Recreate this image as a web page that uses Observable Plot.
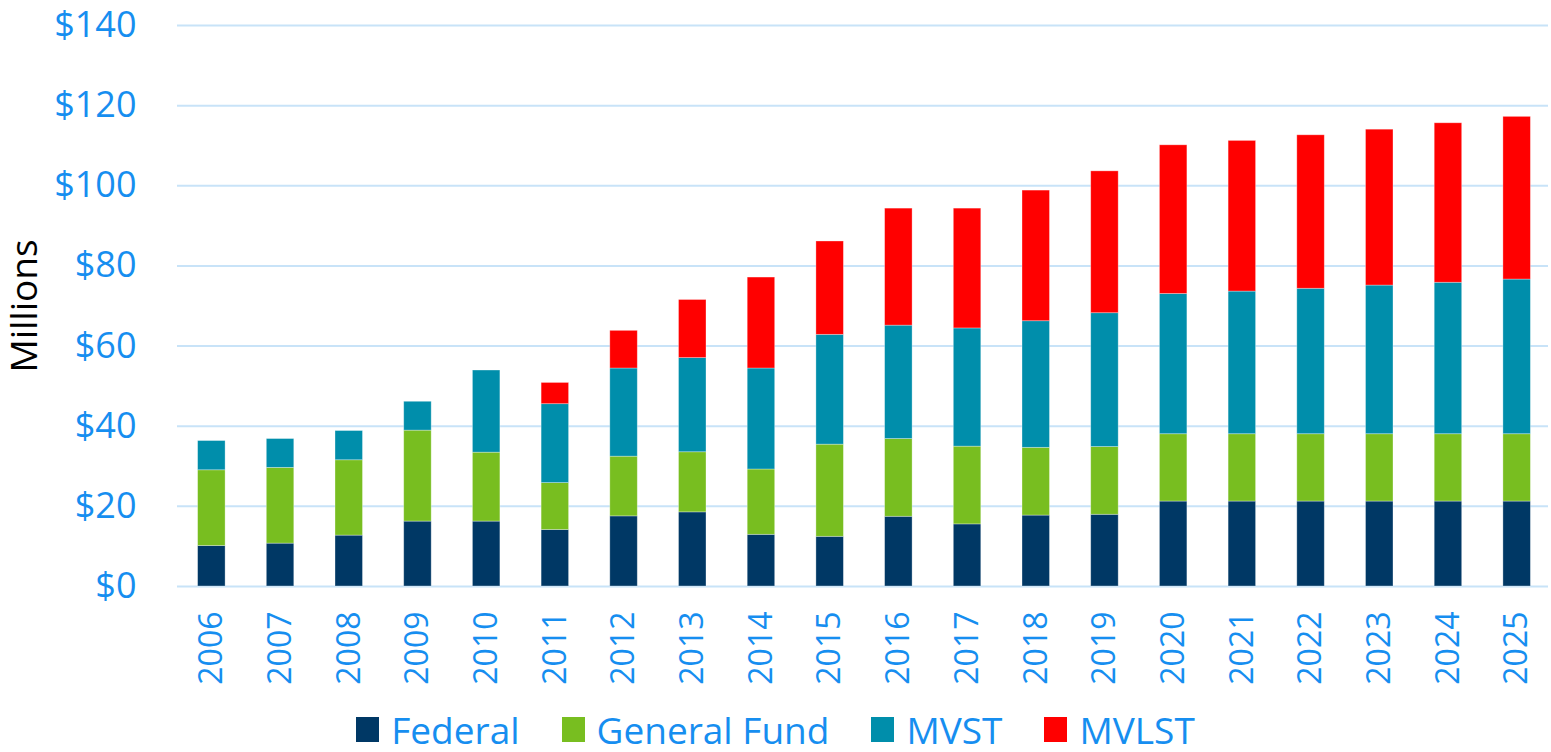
<!DOCTYPE html>
<html>
<head>
<meta charset="utf-8">
<script src="https://cdn.jsdelivr.net/npm/d3@7"></script>
<script src="https://cdn.jsdelivr.net/npm/@observablehq/plot@0.6"></script>
<style>
  html, body { margin: 0; background: #fff; font-family: "Open Sans", sans-serif; overflow: hidden; }
  #chart svg { display: block; }
  #legend { display: flex; justify-content: center; align-items: center; gap: 42px; height: 50px; padding-left: 0px; padding-top: 3px; }
  .item { display: flex; align-items: center; font-size: 37px; color: #168ef0; line-height: 1.2; }
  .sw { width: 23px; height: 25px; margin-right: 12px; }
</style>
</head>
<body>
<div id="chart"></div>
<div id="legend"></div>
<script>
const years = ["2006","2007","2008","2009","2010","2011","2012","2013","2014","2015","2016","2017","2018","2019","2020","2021","2022","2023","2024","2025"];
const federal     = [10.1,10.7,12.7,16.2,16.2,14.1,17.5,18.5,12.9,12.4,17.4,15.5,17.7,17.9,21.2,21.2,21.2,21.2,21.2,21.2];
const generalFund = [18.9,18.9,18.8,22.7,17.2,11.7,14.9,15.0,16.3,23.0,19.4,19.4,16.9,16.9,16.8,16.8,16.8,16.8,16.8,16.8];
const mvst        = [7.3,7.2,7.3,7.2,20.5,19.7,22.0,23.5,25.2,27.4,28.3,29.5,31.6,33.4,35.0,35.6,36.3,37.1,37.8,38.6];
const mvlst       = [0,0,0,0,0,5.3,9.4,14.5,22.7,23.3,29.2,29.9,32.6,35.4,37.1,37.6,38.3,38.9,39.8,40.6];
const seriesNames = ["Federal","General Fund","MVST","MVLST"];
const seriesColors = ["#003865","#78be20","#008eab","#ff0000"];
const yTicks = [0,20,40,60,80,100,120,140];

const seriesValues = [federal, generalFund, mvst, mvlst];
const data = [];
seriesNames.forEach((s, i) => years.forEach((yr, j) => data.push({year: yr, series: s, value: seriesValues[i][j]})));

const chart = Plot.plot({
  width: 1551,
  height: 702,
  marginLeft: 177,
  marginRight: 0,
  marginTop: 25,
  marginBottom: 116,
  style: {fontFamily: "'Open Sans', sans-serif", background: "#fff", overflow: "visible"},
  x: {domain: years, paddingInner: 0.6, paddingOuter: 0.3, round: false, label: null},
  y: {domain: [0, 140], label: null},
  color: {domain: seriesNames, range: seriesColors},
  marks: [
    Plot.gridY(yTicks, {stroke: "#c8e3f8", strokeOpacity: 1, strokeWidth: 2, insetRight: 3}),
    Plot.barY(data, {x: "year", y: "value", fill: "series", stroke: "#ffffff", strokeOpacity: 0.4, strokeWidth: 0.8}),
    Plot.axisY({ticks: yTicks, tickSize: 0, tickPadding: 41, tickFormat: d => "$" + d, fontSize: 36, fill: "#168ef0", label: null}),
    Plot.axisX({tickSize: 0, tickPadding: 25, tickRotate: -90, fontSize: 32, fill: "#168ef0", label: null}),
    Plot.text(["Millions"], {frameAnchor: "left", textAnchor: "middle", dx: -152, rotate: -90, fontSize: 37, fill: "#000"})
  ]
});
document.getElementById("chart").appendChild(chart);

const legend = document.getElementById("legend");
seriesNames.forEach((s, i) => {
  const it = document.createElement("div");
  it.className = "item";
  const sw = document.createElement("div");
  sw.className = "sw";
  sw.style.background = seriesColors[i];
  const t = document.createElement("span");
  t.textContent = s;
  it.appendChild(sw); it.appendChild(t);
  legend.appendChild(it);
});
</script>
</body>
</html>
